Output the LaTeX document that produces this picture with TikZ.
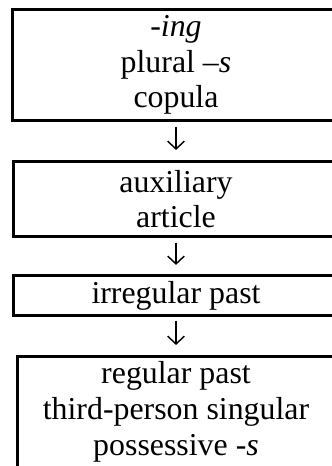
\documentclass[tikz,border=0pt]{standalone}
\usepackage{fontspec}
\setmainfont{Liberation Serif}
\usetikzlibrary{arrows.meta}
\tikzset{stage/.style={draw, line width=1.15pt, align=center, inner sep=0pt,
    font=\fontsize{12.3}{13.8}\selectfont},
  order/.style={-{Straight Barb[length=3pt,width=6.4pt]}, line width=0.55pt,
    shorten <=1.7pt, shorten >=3.7pt}}

\begin{document}
\begin{tikzpicture}[x=0.386pt,y=-0.386pt]
\useasboundingbox (0,0) rectangle (332,466);
\clip (0,0) rectangle (332,466);
\node[stage, minimum width=126.6pt, minimum height=43.2pt] (ing) at (176,65) {\textit{-ing}\\plural \textit{–s}\\copula};
\node[stage, minimum width=125.8pt, minimum height=29.3pt] (aux) at (176,199) {auxiliary\\article};
\node[stage, minimum width=125.1pt, minimum height=15.1pt] (irr) at (176,295.5) {irregular past};
\node[stage, minimum width=122.7pt, minimum height=43.2pt] (reg) at (176,412) {regular past\\third-person singular\\possessive \textit{-s}};
\draw[order] (ing) -- (aux);
\draw[order] (aux) -- (irr);
\draw[order] (irr) -- (reg);
\end{tikzpicture}
\end{document}
